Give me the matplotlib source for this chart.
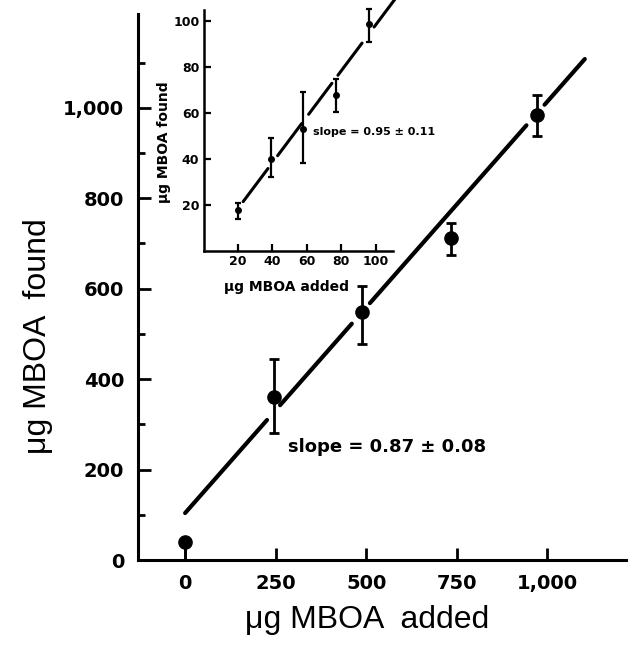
import matplotlib
matplotlib.use('Agg')
import matplotlib.pyplot as plt
import numpy as np

# main plot: recovery of MBOA
added = [0, 245, 488, 735, 972]
found = [40, 360, 549, 712, 985]
found_lo = [0, 281, 478, 675, 938]
found_hi = [40, 445, 606, 745, 1029]
fit_slope = 0.91
fit_intercept = 104
fit_pieces = [(0, 226), (262, 460), (510, 942), (992, 1103)]

x_ticks = [0, 250, 500, 750, 1000]
x_labels = ['0', '250', '500', '750', '1,000']
y_ticks = [0, 200, 400, 600, 800, 1000]
y_labels = ['0', '200', '400', '600', '800', '1,000']
y_minor = [100, 300, 500, 700, 900, 1100]

# inset: low range
in_added = [20, 39, 58, 77, 96]
in_found = [18, 40, 53, 68, 99]
in_lo = [14, 32, 38.5, 60.5, 91]
in_hi = [21, 49, 69, 75, 105.5]
in_slope = 1.0
in_intercept = -1.5
in_pieces = [(23, 37.4), (43, 57), (61, 74.5), (78, 92), (99, 112)]
in_ticks = [20, 40, 60, 80, 100]


def style_axes(ax, lw):
	for side in ['top', 'right']:
		ax.spines[side].set_visible(False)
	for side in ['left', 'bottom']:
		ax.spines[side].set_linewidth(lw)


def draw_fit(ax, pieces, slope, intercept, lw, clip=True):
	for x0, x1 in pieces:
		xs = np.array([x0, x1])
		ax.plot(xs, intercept + slope * xs, color='black', lw=lw,
			solid_capstyle='round', clip_on=clip, zorder=2)


def main():
	fig = plt.figure(figsize=(6.36, 6.52), dpi=100)

	ax = fig.add_axes([0.217, 0.141, 0.768, 0.838])
	style_axes(ax, 2.2)
	ax.set_xlim(-130, 1218)
	ax.set_ylim(0, 1208)

	draw_fit(ax, fit_pieces, fit_slope, fit_intercept, 3)
	f = np.array(found)
	yerr = [f - np.array(found_lo), np.array(found_hi) - f]
	ax.errorbar(added, found, yerr=yerr, fmt='o', color='black', ms=9.5,
		elinewidth=2, capsize=3.5, capthick=2, zorder=3, clip_on=False)

	ax.set_xticks(x_ticks)
	ax.set_xticklabels(x_labels, fontsize=14, fontweight='bold')
	ax.set_yticks(y_ticks)
	ax.set_yticklabels(y_labels, fontsize=14, fontweight='bold')
	ax.set_yticks(y_minor, minor=True)
	ax.tick_params(axis='both', which='major', direction='in', length=9, width=2, pad=10)
	ax.tick_params(axis='y', which='minor', direction='in', length=5, width=2)

	ax.set_xlabel('μg MBOA  added', fontsize=23, family='Liberation Sans')
	ax.set_ylabel('μg MBOA  found', fontsize=23, family='Liberation Sans')
	ax.xaxis.set_label_coords(0.47, -0.082)
	ax.yaxis.set_label_coords(-0.174, 0.41)

	ax.text(284, 250, 'slope = 0.87 ± 0.08', fontsize=13, fontweight='bold',
		va='center', ha='left')

	# inset
	ins = fig.add_axes([0.32, 0.615, 0.298, 0.37])
	style_axes(ins, 1.8)
	ins.patch.set_alpha(0)
	ins.set_xlim(0, 110)
	ins.set_ylim(0, 105)

	draw_fit(ins, in_pieces, in_slope, in_intercept, 2.2, clip=False)
	g = np.array(in_found)
	in_err = [g - np.array(in_lo), np.array(in_hi) - g]
	ins.errorbar(in_added, in_found, yerr=in_err, fmt='o', color='black', ms=4,
		elinewidth=1.6, capsize=2.5, capthick=1.6, zorder=3, clip_on=False)

	ins.set_xticks(in_ticks)
	ins.set_xticklabels([str(t) for t in in_ticks], fontsize=9, fontweight='bold')
	ins.set_yticks(in_ticks)
	ins.set_yticklabels([str(t) for t in in_ticks], fontsize=9, fontweight='bold')
	ins.tick_params(axis='both', direction='in', length=5, width=1.6, pad=3)

	ins.set_xlabel('μg MBOA added', fontsize=10, fontweight='bold')
	ins.set_ylabel('μg MBOA found', fontsize=10, fontweight='bold')
	ins.xaxis.set_label_coords(0.44, -0.12)
	ins.yaxis.set_label_coords(-0.17, 0.45)

	ins.text(63.5, 51.7, 'slope = 0.95 ± 0.11', fontsize=8, fontweight='bold',
		va='center', ha='left', clip_on=False)

	plt.savefig('out.png', dpi=100)
	plt.close()


if __name__ == '__main__':
	main()
